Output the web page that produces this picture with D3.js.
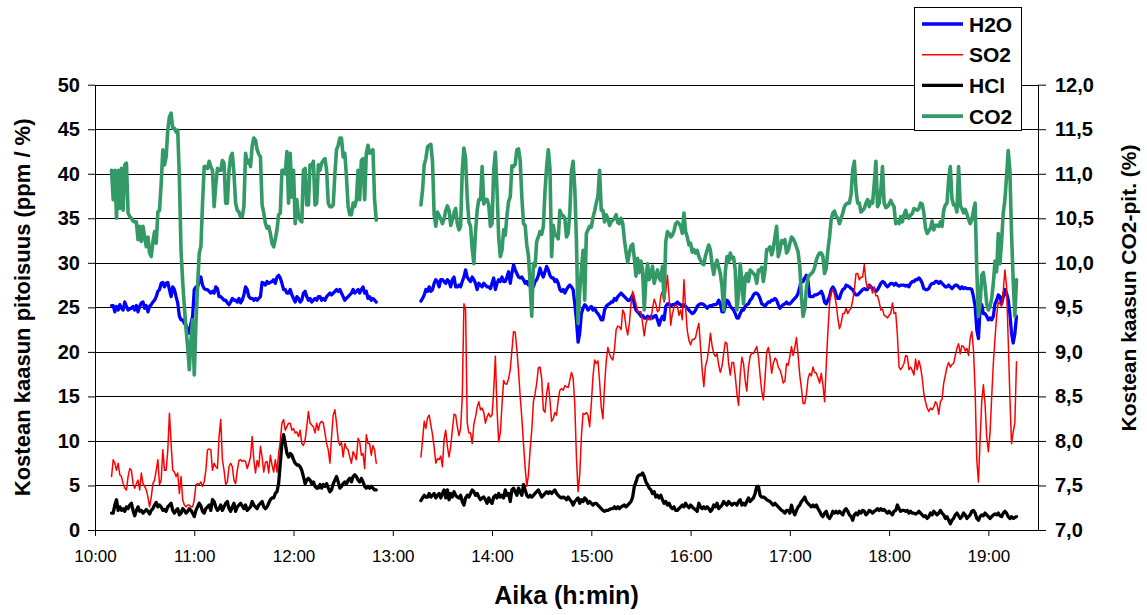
<!DOCTYPE html>
<html>
<head>
<meta charset="utf-8">
<script src="https://cdn.jsdelivr.net/npm/d3@7"></script>
<style>
  html, body { margin: 0; padding: 0; background: #fff; }
  svg { display: block; font-family: Arial, "Liberation Sans", sans-serif; }
</style>
</head>
<body>
<svg id="chart" width="1147" height="615"></svg>
<script>
// Two measurement periods, one reading per minute from each start time.
const periodStarts = ["10:10", "13:17"];

// H2O (%), left axis
const h2oA = [
25.2,25.2,24.5,25.1,24.7,25.3,24.9,24.7,25.6,25.1,
24.7,24.8,24.9,25.1,24.7,25.2,24.5,25.1,25.5,25.6,
24.9,25.2,24.5,25.1,25.3,25.6,25.8,26.2,26.8,27.0,
27.7,27.8,27.3,27.7,27.8,27.0,26.2,27.3,27.0,26.2,
25.5,24.0,23.6,23.6,23.2,23.0,22.5,22.1,23.2,24.0,
27.0,27.3,27.3,27.9,28.4,27.5,27.1,27.0,27.0,26.8,
26.6,26.8,26.6,27.3,27.1,26.2,26.2,26.0,25.8,25.8,
25.5,25.3,25.6,26.0,25.8,25.8,25.6,26.0,25.5,25.8,
26.4,27.3,27.0,26.2,26.0,26.0,25.8,26.0,25.8,26.0,
26.2,27.8,27.7,27.5,27.9,27.7,27.8,27.9,28.1,27.7,
28.4,28.6,28.3,27.7,27.0,27.0,26.6,26.6,
27.0,26.4,26.0,25.6,26.2,26.0,25.6,25.8,26.6,26.8,
26.2,25.8,26.0,25.6,25.8,26.0,25.8,26.2,26.2,25.8,
26.0,25.8,26.2,26.4,26.6,26.4,26.6,26.8,27.0,26.8,
27.0,26.6,26.2,25.8,26.0,26.2,26.4,26.6,27.0,26.6,
26.8,27.0,26.6,27.0,27.3,26.6,26.8,26.0,26.2,25.8,
26.0,25.8,25.6
];
const h2oB = [
25.7,26.0,26.4,27.0,26.8,27.3,26.8,27.0,27.7,28.1,
27.9,27.3,28.1,28.1,27.9,27.7,28.1,27.9,27.3,28.1,
28.4,27.3,27.3,27.5,27.3,27.9,28.4,29.2,28.4,28.1,
27.9,28.4,28.1,27.7,27.0,27.7,27.5,27.3,27.7,27.5,
27.3,
27.3,27.1,27.7,28.3,27.0,27.7,28.1,27.9,28.4,27.9,
27.9,28.4,29.0,27.7,28.8,29.8,29.2,28.8,28.4,28.3,
28.4,28.1,27.7,27.9,27.5,27.9,27.1,27.3,27.9,28.1,
28.6,29.4,28.8,28.4,29.0,29.6,29.2,28.6,28.3,28.3,
27.9,28.1,27.7,27.0,26.8,27.0,26.6,27.0,27.3,27.5,
27.3,27.0,25.4,23.6,21.1,22.1,24.3,24.9,25.3,25.1,
24.7,24.9,25.1,24.7,24.9,24.5,24.3,24.0,23.6,23.6,
24.7,25.1,25.3,25.4,25.6,25.6,26.0,25.8,26.2,26.4,
26.6,26.4,26.2,26.0,25.8,25.8,26.0,26.4,25.3,24.7,
24.5,24.3,24.0,24.1,23.8,23.8,24.0,23.8,24.0,23.8,
24.0,24.1,23.6,23.0,23.6,24.0,23.6,25.1,25.4,25.4,
25.1,25.3,25.3,25.4,25.6,
25.4,25.3,25.1,25.3,25.1,24.9,24.7,24.5,24.3,24.4,
24.7,25.1,25.3,25.4,25.4,25.3,25.1,24.9,25.1,25.2,
25.2,25.3,25.3,25.4,25.8,25.4,24.5,24.5,25.1,25.8,
25.6,25.1,24.9,24.7,24.3,23.8,23.8,24.3,24.7,24.7,
25.1,25.3,25.4,25.8,26.0,26.4,26.6,26.6,26.4,26.0,
25.4,25.3,25.1,25.4,25.6,25.6,25.8,25.8,26.0,25.8,
25.3,24.9,25.1,25.3,25.4,25.6,25.4,25.4,25.6,25.8,
26.0,26.2,26.6,27.3,28.1,27.9,28.3,28.6,27.9,26.2,
26.2,26.2,26.4,26.4,26.5,26.6,26.8,26.4,25.6,25.4,
25.8,26.2,27.0,27.3,27.0,26.4,26.0,26.0,26.6,27.0,
27.1,27.5,27.4,27.3,27.1,27.0,26.6,26.4,26.4,26.6,
26.8,27.0,27.1,27.0,27.0,
27.5,27.3,27.1,27.0,26.8,27.0,27.3,27.7,27.9,27.8,
27.5,27.3,27.5,27.7,27.7,27.5,27.7,27.5,27.4,27.5,
27.5,27.5,27.4,27.5,27.3,27.7,27.9,27.9,28.1,28.1,
28.3,28.1,27.7,27.1,27.0,27.0,27.1,27.5,27.7,27.7,
27.9,27.9,27.7,27.9,27.7,27.5,27.3,27.3,27.5,27.3,
27.1,27.3,27.5,27.5,27.3,27.1,27.3,27.1,27.2,27.1,
27.1,27.1,27.0,26.2,25.1,22.5,21.5,24.7,25.3,24.3,
24.3,24.0,23.6,23.8,23.6,24.0,25.4,25.8,26.4,26.2,
25.4,26.2,27.0,26.6,25.8,24.3,22.1,21.0,22.0,24.0
];

// SO2 (ppm), left axis
const so2A = [
6.0,7.9,7.5,6.7,7.5,6.2,6.0,5.2,4.7,4.5,
6.0,6.9,6.7,5.2,4.7,5.2,5.6,4.5,6.4,5.2,
4.9,4.5,3.7,2.6,3.7,5.2,5.6,6.7,7.9,5.1,
5.6,9.0,6.7,6.7,9.0,13.1,9.7,6.7,6.5,6.0,
6.4,4.1,6.0,3.4,2.8,2.6,2.8,2.8,2.6,2.6,
3.4,5.1,5.2,5.1,5.4,4.9,5.4,6.7,9.0,9.1,
9.0,6.7,7.5,7.1,6.9,10.5,12.4,7.9,6.7,5.1,
5.4,7.1,7.5,7.1,5.6,5.2,6.7,7.8,7.9,7.7,
7.8,7.7,6.9,7.5,8.2,10.5,7.9,6.4,7.8,7.1,
9.4,8.2,6.5,7.6,7.7,6.4,8.4,7.3,6.5,7.9,
6.5,8.6,10.0,12.0,12.4,11.2,11.6,12.0,
12.0,11.2,11.4,10.9,11.0,10.5,11.2,9.7,9.5,10.1,
11.6,13.3,12.0,11.8,11.6,10.9,12.0,11.2,12.0,12.2,
12.0,10.9,9.7,9.0,7.5,10.5,12.9,13.5,12.0,10.1,
9.5,9.8,8.2,9.7,9.2,9.0,8.2,7.5,8.8,8.4,
7.9,10.3,9.9,8.4,8.6,6.9,10.7,9.7,9.7,8.4,
9.5,9.0,7.5
];
const so2B = [
8.2,10.1,12.2,11.4,12.6,12.9,11.8,10.7,9.3,7.5,
8.0,7.9,8.3,7.1,10.2,11.2,9.4,8.2,9.4,11.2,
13.0,12.9,11.6,10.6,11.4,15.0,25.4,24.7,12.0,10.9,
10.9,9.7,11.9,12.7,13.8,14.4,13.5,13.7,13.2,12.0,
12.7,
13.1,12.7,12.9,15.7,19.5,13.5,9.9,10.9,14.0,16.8,
16.4,16.4,17.0,18.0,20.2,22.3,22.2,20.2,17.9,15.0,
12.6,9.7,7.0,4.9,6.2,9.0,11.2,14.4,15.3,16.5,
18.2,18.3,17.0,13.5,13.2,15.3,16.5,14.6,12.2,12.5,
13.2,12.9,14.6,15.7,15.9,15.7,16.2,16.1,16.0,16.8,
17.7,17.1,14.2,8.2,4.3,6.2,10.5,13.1,13.0,13.2,
12.9,11.6,14.2,17.2,19.1,18.7,19.0,16.7,13.8,12.5,
16.2,18.9,20.5,19.8,19.3,19.1,20.3,22.5,22.9,22.8,
22.5,24.7,24.3,22.8,21.9,23.2,25.4,26.8,26.1,25.4,
24.5,24.5,24.5,23.2,21.8,23.2,23.8,23.6,23.6,24.9,
25.9,25.4,24.5,24.7,26.3,26.8,25.6,26.8,28.6,26.2,
23.0,24.3,25.0,25.3,25.1,
24.1,24.7,23.6,28.1,24.9,22.4,21.3,20.8,21.4,21.4,
21.6,22.5,23.2,20.6,18.0,16.1,18.4,19.1,20.3,22.1,
20.7,19.8,19.5,19.8,18.5,17.7,18.4,19.8,21.1,20.9,
18.7,17.4,18.8,18.8,17.3,15.3,14.0,17.4,19.4,18.7,
16.8,15.6,18.3,19.5,19.9,19.8,20.2,20.6,19.5,17.4,
15.6,14.6,17.0,20.0,20.5,19.5,17.6,18.7,19.3,19.1,
18.3,18.0,17.4,16.5,16.7,18.7,18.5,19.5,20.6,19.6,
20.5,21.6,19.6,17.4,15.9,14.2,14.2,15.2,17.0,17.6,
17.3,18.3,17.7,17.6,17.1,16.5,17.6,16.3,14.4,18.5,
22.3,25.4,26.7,27.0,26.4,25.4,23.8,22.6,23.2,24.3,
24.3,24.9,24.3,24.7,24.9,25.8,27.0,28.8,28.8,28.1,
28.4,28.4,29.8,27.9,27.1,
27.5,27.3,26.6,27.3,26.3,26.3,25.6,24.7,24.8,24.1,
24.0,23.8,24.1,24.3,25.5,24.3,24.4,21.9,18.3,18.0,
18.3,18.7,19.6,19.5,18.0,18.3,17.9,17.4,19.2,18.0,
19.0,18.3,17.1,15.3,14.4,13.7,13.3,13.7,13.5,13.8,
14.4,14.1,13.0,14.4,14.7,16.5,17.4,18.3,18.8,18.3,
18.6,18.7,19.6,20.4,20.9,19.8,20.7,20.6,20.1,20.4,
19.6,21.5,22.3,20.2,15.7,7.9,5.4,10.1,14.5,16.3,
14.1,10.5,8.8,10.9,14.9,18.7,21.5,24.1,25.6,25.4,
25.1,26.9,29.2,27.3,21.3,15.0,9.7,11.0,12.0,18.9
];

// HCl (ppm), left axis
const hclA = [
1.9,1.9,2.8,3.4,2.2,2.6,2.2,2.4,2.1,2.6,
2.4,2.8,3.0,2.2,1.6,2.2,2.6,2.1,2.2,1.9,
2.1,2.3,2.1,1.8,2.2,2.4,2.8,3.1,2.6,2.8,
2.6,2.2,2.3,2.1,2.6,2.8,3.0,2.2,1.9,2.2,
2.4,1.7,1.9,2.4,2.2,1.9,2.1,2.4,2.2,1.9,
1.5,2.2,2.6,3.0,2.7,2.1,1.9,2.4,2.6,2.8,
2.2,3.4,3.2,2.6,2.2,2.4,2.8,2.2,2.6,3.0,
3.2,2.4,2.1,2.6,3.0,2.1,2.6,2.8,3.0,2.7,
2.4,2.8,2.2,2.4,2.6,3.2,2.8,2.6,2.4,2.8,
3.0,3.2,2.6,2.4,2.6,3.0,3.4,3.6,3.6,4.1,
4.3,5.2,7.5,9.7,10.7,9.7,8.6,8.2,
8.6,8.4,7.9,7.5,7.3,7.3,7.1,6.7,6.0,5.2,
5.6,5.8,5.6,5.2,5.4,4.9,4.7,4.7,5.1,4.7,
5.1,4.9,5.2,4.7,4.3,4.5,5.2,5.6,6.0,5.4,
4.7,4.9,5.2,5.4,5.2,5.6,5.8,5.4,6.0,6.2,
6.0,5.6,5.4,5.8,5.4,4.9,4.7,4.9,4.7,4.9,
4.7,4.5,4.5
];
const hclB = [
3.3,3.6,3.9,3.7,3.7,4.1,3.7,3.9,4.1,3.6,
3.9,4.1,3.6,4.1,4.5,3.6,4.5,3.4,4.1,3.7,
4.3,3.9,3.7,3.6,3.9,3.2,2.8,3.6,3.9,3.7,
4.1,4.5,4.3,3.9,4.1,3.7,3.4,3.6,3.7,3.4,
3.0,
3.6,3.2,3.0,3.7,3.9,3.6,4.1,3.7,3.9,3.6,
4.5,3.9,4.1,3.2,4.5,4.7,4.3,3.9,4.7,4.3,
3.9,5.1,4.5,3.9,3.7,3.9,3.7,3.9,4.1,4.3,
4.5,4.1,3.7,3.9,4.1,4.3,4.1,4.3,4.1,4.3,
4.5,4.1,3.9,3.7,3.6,3.7,3.6,3.4,3.7,3.4,
3.2,2.8,3.2,3.4,3.6,3.0,3.4,3.2,3.6,3.4,
3.0,3.2,3.0,2.8,3.0,3.0,2.8,2.6,2.4,2.2,
2.1,2.2,2.2,2.3,2.4,2.4,2.6,2.4,2.6,2.4,
2.6,2.7,2.8,2.6,2.8,3.0,3.2,3.7,4.9,5.4,
6.0,6.2,6.2,6.4,6.0,5.4,5.1,4.7,4.5,4.1,
4.3,3.7,3.9,3.6,3.9,3.4,3.0,3.2,2.8,3.0,
2.6,2.4,2.6,2.2,2.2,
2.4,2.6,2.8,2.6,3.0,2.7,2.5,2.8,2.6,2.4,
2.3,2.1,3.0,2.6,2.4,2.6,2.4,2.6,2.4,2.1,
2.3,2.8,2.6,3.0,2.4,2.6,2.8,3.2,3.0,2.8,
3.2,3.0,2.8,3.0,3.0,2.8,3.2,3.4,2.8,3.0,
2.8,3.2,3.6,3.2,3.4,3.6,4.1,4.9,4.9,3.9,
3.7,3.7,3.6,3.4,3.3,3.2,3.0,2.8,3.0,2.8,
2.6,2.4,2.2,2.1,1.9,2.2,2.2,1.9,2.8,2.1,
1.7,2.2,2.6,2.8,3.2,3.4,3.7,3.2,3.0,2.8,
2.6,2.8,2.6,2.8,2.4,2.1,1.7,1.5,1.9,2.1,
1.5,1.3,1.6,2.1,1.9,2.1,1.9,2.1,1.9,1.7,
2.2,2.4,2.1,1.7,1.5,1.1,1.7,1.9,1.7,2.1,
1.9,2.2,2.1,1.7,1.9,
2.2,2.1,1.9,2.1,2.2,2.4,2.2,2.4,2.2,2.3,
2.1,1.9,2.1,1.9,1.7,2.1,2.2,2.8,2.4,2.1,
2.2,2.2,2.1,2.2,1.9,2.1,1.9,1.9,1.8,1.9,
2.1,1.9,1.7,1.5,1.6,1.3,1.5,1.9,1.7,2.1,
1.9,1.7,1.9,2.2,1.9,1.7,1.3,1.5,1.1,0.7,
1.1,1.3,1.7,1.9,1.6,1.3,1.5,1.9,1.7,1.3,
1.5,1.7,2.1,2.2,1.9,1.3,1.1,1.5,1.7,1.6,
1.9,1.7,1.5,1.3,1.5,1.7,1.8,1.7,1.9,1.6,
1.5,1.9,2.1,1.9,1.5,1.3,1.5,1.3,1.4,1.5
];

// CO2 (%), right axis
const co2A = [
11.04,10.71,11.04,10.50,11.04,10.61,11.06,10.59,11.10,11.12,
10.56,10.52,10.50,10.47,10.46,10.46,10.26,10.41,10.24,10.41,
10.29,10.18,10.29,10.11,10.07,10.24,10.35,10.22,10.57,10.59,
10.89,11.27,11.10,11.19,11.49,11.64,11.68,11.51,11.51,11.47,
11.49,10.95,10.14,9.79,9.51,9.26,9.06,8.80,9.13,9.36,
8.74,9.32,9.73,10.11,10.18,10.67,11.08,11.08,11.06,11.14,
11.08,11.04,10.63,10.87,11.06,11.04,11.04,11.15,11.12,10.67,
10.67,11.04,11.19,11.23,11.00,10.67,10.59,10.57,10.52,10.52,
10.63,11.23,11.12,11.15,11.08,11.31,11.40,11.38,11.27,11.22,
11.19,10.65,10.56,10.44,10.39,10.41,10.33,10.22,10.18,10.27,
10.37,10.54,10.56,11.04,11.04,11.00,11.25,10.67,
11.23,10.74,11.04,10.44,10.71,10.52,10.48,10.46,11.04,11.06,
10.65,10.65,11.10,11.08,11.14,10.65,10.67,11.10,11.04,11.12,
11.15,11.17,11.04,10.67,10.63,10.63,10.65,11.00,11.27,11.32,
11.40,11.40,11.19,11.23,10.97,10.63,10.54,10.54,10.67,10.63,
10.71,11.04,10.71,11.15,11.17,10.71,11.23,11.32,11.23,11.25,
11.27,10.71,10.48
];
const co2B = [
10.65,10.82,11.10,11.17,11.30,11.32,11.33,11.14,10.54,10.41,
10.57,10.53,10.49,10.44,10.49,10.59,10.64,10.59,10.42,10.48,
10.56,10.61,10.44,10.37,10.41,11.04,11.29,11.17,10.73,10.46,
10.41,10.16,9.99,10.35,10.59,10.71,10.71,11.08,10.66,10.71,
10.71,
10.65,10.41,10.44,11.04,11.24,10.82,10.29,10.07,10.14,10.37,
10.31,10.53,10.69,10.74,11.09,11.08,11.11,11.27,11.28,11.15,
10.74,10.44,10.42,10.20,10.08,9.77,9.40,9.99,9.96,10.24,
10.29,10.35,10.32,10.41,10.80,11.08,11.27,11.06,10.07,10.42,
10.32,10.30,10.27,10.59,10.54,10.53,10.50,10.29,10.33,10.56,
11.03,11.14,10.84,10.26,9.32,9.68,9.93,10.14,9.58,10.33,
10.37,10.41,10.40,10.51,10.58,10.67,10.75,11.04,10.59,10.59,
10.46,10.54,10.50,10.42,10.46,10.48,10.50,10.54,10.45,10.44,
10.50,10.44,10.26,10.12,10.01,10.11,10.19,10.21,10.05,9.85,
10.05,9.89,10.02,9.92,9.47,9.81,9.99,9.81,9.86,9.96,
9.77,9.85,9.92,9.83,9.80,9.96,9.60,10.24,10.35,10.33,
10.29,10.31,10.36,10.44,10.46,
10.44,10.41,10.33,10.56,10.35,10.29,10.20,10.22,10.12,10.15,
10.11,10.14,10.07,10.03,9.99,9.98,10.08,10.14,10.20,10.14,
9.98,9.87,9.98,10.03,9.95,9.88,9.73,9.47,9.90,10.07,
10.01,10.11,10.05,10.06,9.92,9.47,9.64,9.99,9.79,9.54,
9.84,9.88,9.79,9.92,9.90,9.88,9.86,9.77,9.92,9.91,
9.95,9.79,9.92,10.15,10.15,10.18,10.09,10.16,10.29,10.41,
10.07,10.14,10.25,10.22,10.26,10.11,10.14,10.22,10.29,10.27,
10.23,10.18,10.12,9.96,9.62,9.40,9.48,9.71,9.84,9.86,
9.88,9.90,9.95,10.03,10.08,10.11,10.11,10.07,9.88,9.94,
10.14,10.29,10.49,10.56,10.58,10.52,10.50,10.44,10.50,10.56,
10.63,10.66,10.67,10.67,10.77,11.04,11.14,10.82,10.67,10.67,
10.57,10.59,10.61,10.67,10.71,
10.63,10.69,10.67,10.89,11.14,10.63,10.67,10.82,11.08,10.67,
10.62,10.63,10.66,10.70,10.66,10.63,10.44,10.46,10.44,10.52,
10.46,10.54,10.59,10.52,10.50,10.54,10.55,10.61,10.60,10.59,
10.61,10.67,10.66,10.56,10.39,10.33,10.36,10.39,10.47,10.37,
10.42,10.42,10.41,10.46,10.41,10.59,10.65,10.67,10.94,11.08,
10.72,10.65,10.65,10.57,11.08,10.64,10.61,10.56,10.60,10.55,
10.49,10.44,10.48,10.59,10.67,9.92,9.40,9.54,9.86,9.89,
9.74,9.54,9.47,9.51,9.60,9.77,10.02,9.90,10.33,9.99,
10.24,10.56,10.71,10.97,11.26,11.04,10.33,9.80,9.40,9.81
];

// Axis ticks and labels
const timeTicks = ["10:00","11:00","12:00","13:00","14:00","15:00","16:00","17:00","18:00","19:00"];
const leftTicks = [0,5,10,15,20,25,30,35,40,45,50];
const rightTicks = [7.0,7.5,8.0,8.5,9.0,9.5,10.0,10.5,11.0,11.5,12.0];
const timeRange = ["10:00","19:30"];

const seriesNames = ["H2O","SO2","HCl","CO2"];
const seriesColors = ["#0000ff","#ff0000","#000000","#339966"];
const seriesWidths = [3.3,1.5,3.3,3.6];

const leftTitle = "Kostean kaasun pitoisuus (ppm / %)";
const rightTitle = "Kostean kaasun CO2-pit. (%)";
const xTitle = "Aika (h:min)";

// ---------------------------------------------------------------
const svg = d3.select("#chart");
const parseTime = d3.timeParse("%H:%M");
const plot = { left: 95, right: 1038, top: 84.7, bottom: 530 };

const x = d3.scaleTime()
  .domain(timeRange.map(parseTime))
  .range([plot.left, plot.right]);
const yL = d3.scaleLinear().domain([0, 50]).range([plot.bottom, plot.top]);
const yR = d3.scaleLinear().domain([7, 12]).range([plot.bottom, plot.top]);

// horizontal gridlines
svg.append("g").selectAll("line").data(leftTicks).join("line")
  .attr("x1", plot.left).attr("x2", plot.right)
  .attr("y1", d => Math.round(yL(d)) + 0.5).attr("y2", d => Math.round(yL(d)) + 0.5)
  .attr("stroke", "#000").attr("stroke-width", 1);

// left axis
const axL = svg.append("g").attr("transform", `translate(${plot.left},0)`)
  .call(d3.axisLeft(yL).tickValues(leftTicks).tickSize(7).tickSizeOuter(0).tickPadding(8));
axL.selectAll("text").attr("font-size", 20).attr("font-weight", "bold")
  .attr("font-family", "Arial, 'Liberation Sans', sans-serif").attr("fill", "#000");

// right axis
const axR = svg.append("g").attr("transform", `translate(${plot.right},0)`)
  .call(d3.axisRight(yR).tickValues(rightTicks).tickSize(8).tickSizeOuter(0).tickPadding(9)
    .tickFormat(d => d3.format(".1f")(d).replace(".", ",")));
axR.selectAll("text").attr("font-size", 20).attr("font-weight", "bold")
  .attr("font-family", "Arial, 'Liberation Sans', sans-serif").attr("fill", "#000");

// bottom axis
const axB = svg.append("g").attr("transform", `translate(0,${plot.bottom})`)
  .call(d3.axisBottom(x).tickValues(timeTicks.map(parseTime)).tickSize(6).tickSizeOuter(0).tickPadding(14)
    .tickFormat(d3.timeFormat("%H:%M")));
axB.selectAll("text").attr("font-size", 17)
  .attr("font-family", "Arial, 'Liberation Sans', sans-serif").attr("fill", "#000");

[axL, axR, axB].forEach(a => {
  a.select(".domain").attr("stroke", "#000").attr("stroke-width", 1);
  a.selectAll(".tick line").attr("stroke", "#000");
});

// series
const line = (yScale) => d3.line()
  .defined(d => d.v != null)
  .x(d => x(d.t)).y(d => yScale(d.v));

function periods(a, b) {
  return [a, b].map((vals, p) => {
    const start = parseTime(periodStarts[p]);
    return vals.map((v, i) => ({ t: d3.timeMinute.offset(start, i), v }));
  });
}

const series = [
  { name: "H2O", data: periods(h2oA, h2oB), y: yL },
  { name: "SO2", data: periods(so2A, so2B), y: yL },
  { name: "HCl", data: periods(hclA, hclB), y: yL },
  { name: "CO2", data: periods(co2A, co2B), y: yR }
];

const gLines = svg.append("g").attr("fill", "none")
  .attr("stroke-linejoin", "round").attr("stroke-linecap", "round");
series.forEach((s, k) => {
  s.data.forEach(seg => {
    gLines.append("path").datum(seg)
      .attr("d", line(s.y))
      .attr("stroke", seriesColors[k])
      .attr("stroke-width", seriesWidths[k]);
  });
});

// axis titles
svg.append("text")
  .attr("transform", `translate(30,${(plot.top + plot.bottom) / 2}) rotate(-90)`)
  .attr("text-anchor", "middle").attr("font-size", 22).attr("font-weight", "bold")
  .text(leftTitle);
svg.append("text")
  .attr("transform", `translate(1136,288) rotate(-90)`)
  .attr("text-anchor", "middle").attr("font-size", 21).attr("font-weight", "bold")
  .text(rightTitle);
svg.append("text")
  .attr("x", (plot.left + plot.right) / 2).attr("y", 604)
  .attr("text-anchor", "middle").attr("font-size", 25).attr("font-weight", "bold")
  .text(xTitle);

// legend
const lg = svg.append("g");
lg.append("rect").attr("x", 914.5).attr("y", 7.5).attr("width", 107).attr("height", 123)
  .attr("fill", "#fff").attr("stroke", "#000").attr("stroke-width", 1);
seriesNames.forEach((n, k) => {
  const yy = 24 + k * 30.7;
  lg.append("line").attr("x1", 922).attr("x2", 963).attr("y1", yy).attr("y2", yy)
    .attr("stroke", seriesColors[k]).attr("stroke-width", seriesWidths[k]);
  lg.append("text").attr("x", 969).attr("y", yy).attr("dy", "0.36em")
    .attr("font-size", 21).attr("font-weight", "bold").text(n);
});
</script>
</body>
</html>
